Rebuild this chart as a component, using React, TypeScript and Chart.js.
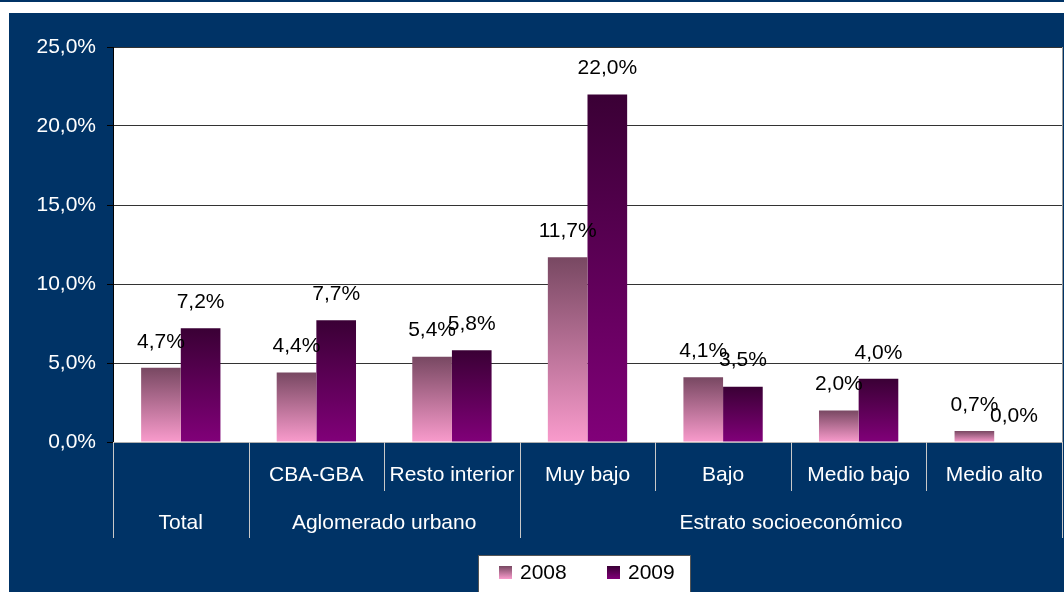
import React, { useEffect, useRef } from "react";
import { Chart, registerables } from "chart.js";

Chart.register(...registerables);

const categories = ["Total", "CBA-GBA", "Resto interior", "Muy bajo", "Bajo", "Medio bajo", "Medio alto"];
const tickLabelsRow1 = ["", "CBA-GBA", "Resto interior", "Muy bajo", "Bajo", "Medio bajo", "Medio alto"];
const groupLabels = ["Total", "Aglomerado urbano", "Estrato socioeconómico"];
const groupSpans = [1, 2, 4];
const seriesNames = ["2008", "2009"];
const values2008 = [4.7, 4.4, 5.4, 11.7, 4.1, 2.0, 0.7];
const values2009 = [7.2, 7.7, 5.8, 22.0, 3.5, 4.0, 0.0];
const yTicks = [0, 5, 10, 15, 20, 25];

const FONT = '"Liberation Sans", Arial, sans-serif';
const BLUE = "#003366";
const GRAD2008: [string, string] = ["#f99bcc", "#784862"];
const GRAD2009: [string, string] = ["#810079", "#3a0035"];

const fmt = (v: number) => v.toFixed(1).replace(".", ",") + "%";

function gradFill(colors: [string, string]) {
  return (ctx: any) => {
    const chart = ctx.chart;
    if (!chart.chartArea || ctx.type !== "data") return colors[0];
    const y = chart.scales.y;
    const top = y.getPixelForValue(ctx.raw);
    const bottom = y.getPixelForValue(0);
    const g = chart.ctx.createLinearGradient(0, bottom, 0, Math.min(top, bottom - 0.5));
    g.addColorStop(0, colors[0]);
    g.addColorStop(1, colors[1]);
    return g;
  };
}

const decorPlugin = {
  id: "decor",
  beforeDraw(chart: any) {
    const { ctx, width, height, chartArea } = chart;
    ctx.save();
    ctx.fillStyle = "#ffffff";
    ctx.fillRect(0, 0, width, height);
    ctx.fillStyle = BLUE;
    ctx.fillRect(0, 0, width, 2);
    ctx.fillRect(9, 13, width - 9, height - 13);
    ctx.fillStyle = "#ffffff";
    ctx.fillRect(chartArea.left, chartArea.top, chartArea.right - chartArea.left, chartArea.bottom - chartArea.top);
    ctx.restore();
  },
  afterDatasetsDraw(chart: any) {
    const { ctx } = chart;
    ctx.save();
    ctx.font = `21px ${FONT}`;
    ctx.fillStyle = "#000";
    ctx.textAlign = "center";
    ctx.textBaseline = "middle";
    chart.data.datasets.forEach((ds: any, di: number) => {
      const meta = chart.getDatasetMeta(di);
      meta.data.forEach((bar: any, i: number) => {
        ctx.fillText(fmt(ds.data[i]), bar.x, bar.y - 26);
      });
    });
    ctx.restore();
  },
  afterDraw(chart: any) {
    const { ctx, chartArea } = chart;
    const x = chart.scales.x;
    const n = categories.length;
    const cw = (chartArea.right - chartArea.left) / n;
    const bottom = chartArea.bottom;
    ctx.save();
    // right border
    ctx.strokeStyle = "#999";
    ctx.lineWidth = 1;
    ctx.beginPath();
    ctx.moveTo(chartArea.right + 0.5, chartArea.top);
    ctx.lineTo(chartArea.right + 0.5, bottom);
    ctx.stroke();
    // separators
    ctx.strokeStyle = "#c8c8c8";
    const groupBounds = new Set<number>();
    let acc = 0;
    groupBounds.add(0);
    groupSpans.forEach((s) => {
      acc += s;
      groupBounds.add(acc);
    });
    for (let b = 0; b <= n; b++) {
      const px = Math.round(chartArea.left + b * cw) + 0.5;
      const len = groupBounds.has(b) ? 96 : 49;
      ctx.beginPath();
      ctx.moveTo(px, bottom);
      ctx.lineTo(px, bottom + len);
      ctx.stroke();
    }
    // labels
    ctx.fillStyle = "#ffffff";
    ctx.font = `21px ${FONT}`;
    ctx.textAlign = "center";
    ctx.textBaseline = "middle";
    tickLabelsRow1.forEach((t, i) => {
      if (t) ctx.fillText(t, x.getPixelForValue(i), bottom + 33);
    });
    let start = 0;
    groupLabels.forEach((g, gi) => {
      const end = start + groupSpans[gi];
      const cx = chartArea.left + ((start + end) / 2) * cw;
      ctx.fillText(g, cx, bottom + 81);
      start = end;
    });
    // legend
    const lx = 478, ly = 555, lw = 213, lh = 45;
    ctx.fillStyle = "#ffffff";
    ctx.fillRect(lx, ly, lw, lh);
    ctx.strokeStyle = "#555";
    ctx.strokeRect(lx + 0.5, ly + 0.5, lw - 1, lh);
    const items = [
      { x: 499, colors: GRAD2008, label: seriesNames[0] },
      { x: 607, colors: GRAD2009, label: seriesNames[1] },
    ];
    items.forEach((it) => {
      const g = ctx.createLinearGradient(0, 579, 0, 566);
      g.addColorStop(0, it.colors[0]);
      g.addColorStop(1, it.colors[1]);
      ctx.fillStyle = g;
      ctx.fillRect(it.x, 566, 13, 13);
      ctx.fillStyle = "#000";
      ctx.textAlign = "left";
      ctx.fillText(it.label, it.x + 21, 573);
    });
    ctx.restore();
  },
};

export default function App() {
  const ref = useRef<HTMLCanvasElement | null>(null);
  useEffect(() => {
    if (!ref.current) return;
    const chart = new Chart(ref.current, {
      type: "bar",
      data: {
        labels: categories,
        datasets: [
          { label: seriesNames[0], data: values2008, backgroundColor: gradFill(GRAD2008), borderWidth: 0 },
          { label: seriesNames[1], data: values2009, backgroundColor: gradFill(GRAD2009), borderWidth: 0 },
        ],
      },
      options: {
        responsive: false,
        animation: false,
        devicePixelRatio: 1,
        layout: { padding: { left: 0, top: 47, right: 2, bottom: 0 } },
        datasets: { bar: { categoryPercentage: 0.585, barPercentage: 1.0 } },
        plugins: { legend: { display: false }, tooltip: { enabled: false } },
        scales: {
          x: {
            ticks: { display: false },
            grid: { display: false },
            border: { display: true, color: "#b0b0b0", width: 1 },
            afterFit: (s: any) => {
              s.height = 150;
            },
          },
          y: {
            min: 0,
            max: 25,
            afterBuildTicks: (s: any) => {
              s.ticks = yTicks.map((v) => ({ value: v }));
            },
            ticks: {
              color: "#ffffff",
              font: { family: FONT, size: 21 },
              padding: 11,
              callback: (v: any) => fmt(Number(v)),
            },
            grid: {
              color: (c: any) => (c.tick && c.tick.value === 0 ? "#b0b0b0" : "#333333"),
              tickColor: "#000000",
              tickLength: 6,
              drawTicks: true,
            },
            border: { display: true, color: "#000000", width: 1 },
            afterFit: (s: any) => {
              s.width = 113;
            },
          },
        },
      },
      plugins: [decorPlugin],
    });
    return () => chart.destroy();
  }, []);
  return (
    <div style={{ position: "absolute", left: 0, top: 0, width: 1064, height: 592, overflow: "hidden" }}>
      <canvas ref={ref} width={1064} height={592} style={{ display: "block" }} />
    </div>
  );
}
